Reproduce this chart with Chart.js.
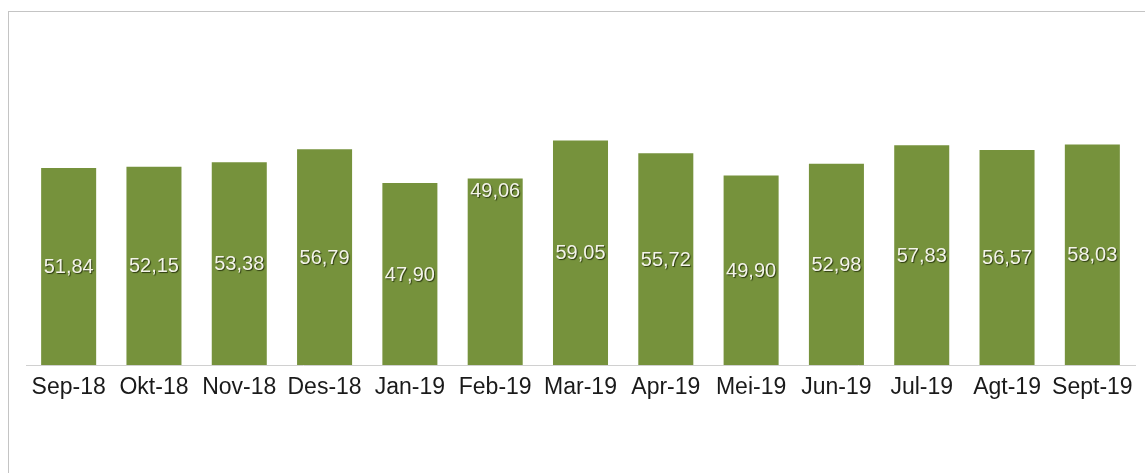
<!DOCTYPE html>
<html>
<head>
<meta charset="utf-8">
<script src="https://cdn.jsdelivr.net/npm/chart.js@4"></script>
<style>
    html, body { margin: 0; padding: 0; background: #fff; }
    .wrap { position: relative; width: 1145px; height: 473px; overflow: hidden; }
    .frame {
        position: absolute; left: 8px; top: 11px; width: 1200px; height: 500px;
        border-left: 1px solid #c4c4c4; border-top: 1px solid #c4c4c4;
    }
    canvas { position: absolute; left: 0; top: 0; }
</style>
</head>
<body>
<div class="wrap">
    <div class="frame"></div>
    <canvas id="chart-bulanan" width="1145" height="473"></canvas>
</div>
<script>
const bulan = ['Sep-18', 'Okt-18', 'Nov-18', 'Des-18', 'Jan-19', 'Feb-19', 'Mar-19',
    'Apr-19', 'Mei-19', 'Jun-19', 'Jul-19', 'Agt-19', 'Sept-19'];
const nilai = [51.84, 52.15, 53.38, 56.79, 47.90, 49.06, 59.05, 55.72, 49.90, 52.98, 57.83, 56.57, 58.03];
// label yang ditaruh di ujung atas batang, bukan di tengah
const labelDiAtas = ['Feb-19'];

const formatAngka = (v) => v.toFixed(2).replace('.', ',');

// Tulis nilai di dalam batang (putih dengan bayangan gelap)
const labelBatang = {
    id: 'labelBatang',
    afterDatasetsDraw(chart) {
        const ctx = chart.ctx;
        const meta = chart.getDatasetMeta(0);
        ctx.save();
        ctx.font = '20px "Liberation Sans", Arial, sans-serif';
        ctx.textAlign = 'center';
        ctx.fillStyle = '#f4f4ea';
        ctx.shadowColor = 'rgba(20, 30, 0, 0.75)';
        ctx.shadowOffsetX = 1;
        ctx.shadowOffsetY = 1;
        ctx.shadowBlur = 1;
        meta.data.forEach((bar, i) => {
            const teks = formatAngka(nilai[i]);
            if (labelDiAtas.includes(bulan[i])) {
                ctx.textBaseline = 'top';
                ctx.fillText(teks, bar.x, bar.y + 3);
            } else {
                ctx.textBaseline = 'middle';
                ctx.fillText(teks, bar.x, (bar.y + bar.base) / 2 + 1);
            }
        });
        ctx.restore();
    }
};

new Chart(document.getElementById('chart-bulanan'), {
    type: 'bar',
    data: {
        labels: bulan,
        datasets: [{
            data: nilai,
            backgroundColor: '#76923c',
            barPercentage: 0.645,
            categoryPercentage: 1
        }]
    },
    options: {
        responsive: false,
        animation: false,
        layout: { padding: { top: 61, left: 26, right: 10, bottom: 0 } },
        plugins: {
            legend: { display: false },
            tooltip: { enabled: false }
        },
        scales: {
            x: {
                grid: { display: false, drawTicks: false },
                border: { color: '#d0d0d0', width: 1 },
                ticks: {
                    color: '#1a1a1a',
                    padding: 9,
                    maxRotation: 0,
                    autoSkip: false,
                    font: { family: '"Liberation Sans", Arial, sans-serif', size: 23 }
                },
                afterFit: (scale) => { scale.height = 108; }
            },
            y: {
                display: false,
                min: 0,
                max: 80
            }
        }
    },
    plugins: [labelBatang]
});
</script>
</body>
</html>
